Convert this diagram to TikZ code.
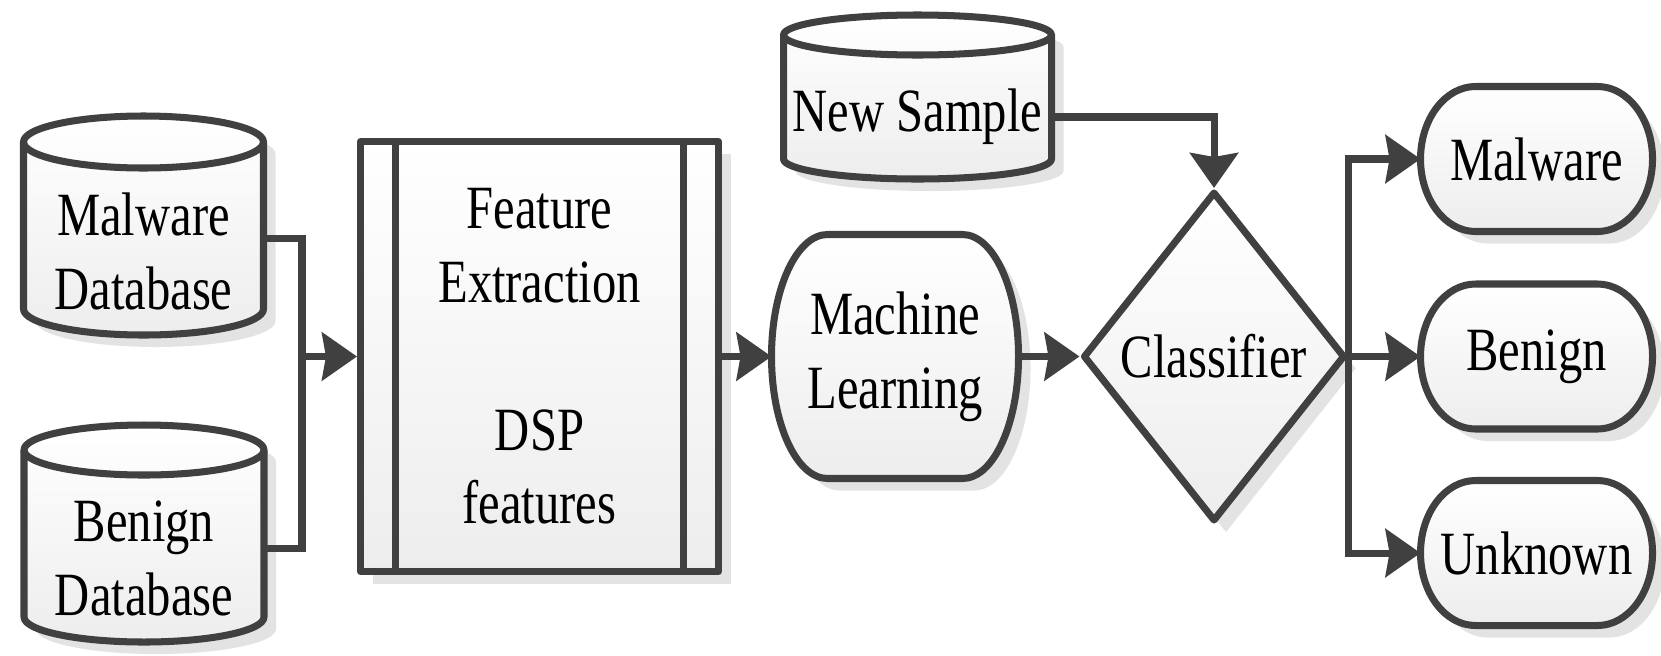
\documentclass[tikz,border=0pt]{standalone}
\usepackage{fontspec}
\setmainfont{Liberation Serif}[FakeStretch=0.79]
\usetikzlibrary{arrows.meta, shapes.geometric, shadows, backgrounds}
\definecolor{linegray}{RGB}{64,64,64}

\begin{document}
\begin{tikzpicture}[
    font=\fontsize{17.5}{21}\selectfont,
    base/.style={draw=linegray, line width=2pt, line join=round, top color=white, bottom color=black!7,
        drop shadow={shadow xshift=1.2mm, shadow yshift=-1.2mm, fill=black!11, opacity=1}},
    text node/.style={inner sep=0pt, outer sep=0pt, align=center},
    db node/.style={text node, minimum width=2.4cm, minimum height=1.67cm},
    out node/.style={text node, minimum width=2.32cm, minimum height=1.45cm},
    box node/.style={base, rectangle, minimum width=3.58cm, minimum height=4.3cm, align=center,
        path picture={
            \draw[linegray, line width=2pt]
                ([xshift=3.5mm]path picture bounding box.north west) -- ([xshift=3.5mm]path picture bounding box.south west)
                ([xshift=-3.5mm]path picture bounding box.north east) -- ([xshift=-3.5mm]path picture bounding box.south east);
        }},
    dec node/.style={base, diamond, minimum width=2.62cm, minimum height=3.3cm, inner sep=1pt},
    arrow/.style={-{Stealth[length=3.5mm, width=4.8mm, inset=0.4mm]}, draw=linegray, line width=2pt},
    link/.style={draw=linegray, line width=2pt}
]
\useasboundingbox (0,0) rectangle (16.61,-6.55);

% Databases
\node[db node] (mdb) at (1.435,-2.515) {Malware\\Database};
\node[db node] (bdb) at (1.44,-5.585) {Benign\\Database};
\node[db node, minimum width=2.68cm, minimum height=1.24cm] (new) at (9.175,-1.17) {New Sample};

% Processing
\node[box node] (fe) at (5.395,-3.565) {Feature\\Extraction\\[21pt]DSP\\features};
\node[text node, minimum width=2.47cm, minimum height=2.44cm] (ml) at (8.95,-3.565) {Machine\\Learning};
\node[dec node] (cls) at (12.14,-3.565) {Classifier};

% Results
\node[out node] (out1) at (15.365,-1.59) {Malware};
\node[out node] (out2) at (15.365,-3.565) {Benign};
\node[out node] (out3) at (15.365,-5.53) {Unknown};

% Outlines behind the texts
\begin{scope}[on background layer]
\foreach \nd/\rx/\ry in {mdb/1.2/0.26, bdb/1.2/0.25, new/1.34/0.2}{
    \draw[base] ([yshift=\ry cm]\nd.north west) arc[start angle=180, end angle=0, x radius=\rx, y radius=\ry]
        -- ([yshift=\ry cm]\nd.south east) arc[start angle=0, end angle=-180, x radius=\rx, y radius=\ry] -- cycle;
    \draw[link] ([yshift=\ry cm]\nd.north west) arc[start angle=180, end angle=360, x radius=\rx, y radius=\ry];
}
\foreach \nd/\rx/\ry in {ml/0.56/1.22, out1/0.55/0.725, out2/0.55/0.725, out3/0.55/0.725}{
    \draw[base] ([xshift=\rx cm]\nd.north west) -- ([xshift=-\rx cm]\nd.north east)
        arc[start angle=90, end angle=-90, x radius=\rx, y radius=\ry]
        -- ([xshift=\rx cm]\nd.south west)
        arc[start angle=270, end angle=90, x radius=\rx, y radius=\ry] -- cycle;
}
\end{scope}

% Inputs
\coordinate (join) at ([xshift=-5.5mm]fe.west);
\draw[link] ([yshift=1.3mm]mdb.east) -| (join) |- ([yshift=1mm]bdb.east);
\draw[arrow] (join) -- (fe);

% Main flow
\draw[arrow] (fe) -- (ml);
\draw[arrow] (ml) -- (cls);
\draw[arrow] (new) -| (cls);

% Decisions
\draw[arrow] (cls.east) |- (out1);
\draw[arrow] (cls) -- (out2);
\draw[arrow] (cls.east) |- (out3);
\end{tikzpicture}
\end{document}
